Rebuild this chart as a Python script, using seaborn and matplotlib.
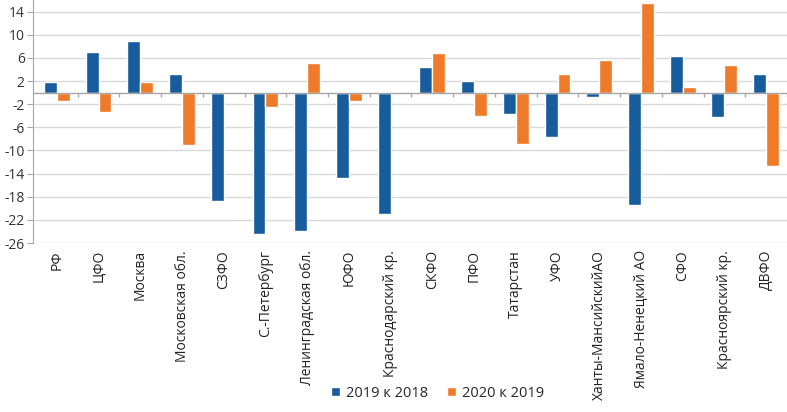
import matplotlib
matplotlib.use("Agg")
import matplotlib.pyplot as plt
import seaborn as sns
import pandas as pd
import numpy as np

categories = ["РФ", "ЦФО", "Москва", "Московская обл.", "СЗФО", "С.-Петербург",
              "Ленинградская обл.", "ЮФО", "Краснодарский кр.", "СКФО", "ПФО",
              "Татарстан", "УФО", "Ханты-МансийскийАО", "Ямало-Ненецкий АО",
              "СФО", "Красноярский кр.", "ДВФО"]
series_names = ["2019 к 2018", "2020 к 2019"]
v2019 = [1.8, 7.0, 9.0, 3.3, -18.8, -24.4, -23.9, -14.7, -20.9, 4.4, 2.0,
         -3.7, -7.6, -0.8, -19.5, 6.3, -4.3, 3.3]
v2020 = [-1.4, -3.4, 1.8, -9.1, -0.3, -2.5, 5.2, -1.4, -0.3, 6.8, -4.1,
         -8.9, 3.3, 5.6, 15.4, 0.9, 4.8, -12.6]
yticks = list(range(-26, 15, 4))

colors = ["#175C9C", "#EE7A2A"]

df = pd.DataFrame({
    "cat": categories * 2,
    "series": [series_names[0]] * len(categories) + [series_names[1]] * len(categories),
    "value": v2019 + v2020,
})

sns.set_style("white")
plt.rcParams["font.family"] = ["Open Sans", "DejaVu Sans"]

fig = plt.figure(figsize=(7.87, 4.12), dpi=100)
ax = fig.add_axes([0.042, 0.41, 0.958, 0.59])

sns.barplot(data=df, x="cat", y="value", hue="series", palette=colors,
            width=0.62, ax=ax, saturation=1, legend=True, zorder=3)

ax.set_ylim(-26, 16)
ax.set_yticks(yticks)
ax.set_yticklabels([str(t) for t in yticks], fontsize=10, color="#333333")
ax.yaxis.grid(True, color="#D9D9D9", linewidth=1, zorder=0)
ax.set_axisbelow(True)
ax.set_xlim(-0.57, len(categories) - 0.5)
ax.set_xlabel("")
ax.set_ylabel("")
for s in ["top", "right", "bottom"]:
    ax.spines[s].set_visible(False)
ax.spines["left"].set_color("#A6A6A6")
ax.tick_params(axis="y", length=4, color="#A6A6A6", left=True, pad=2)
ax.tick_params(axis="x", length=0, pad=5)
ax.set_xticks(range(len(categories)))
ax.set_xticklabels(categories, rotation=90, fontsize=10, color="#222222")

ax.axhline(0, color="#A6A6A6", linewidth=1, zorder=4)
bounds = np.arange(len(categories)) + 0.5
ax.vlines(bounds, -0.7, 0, color="#A6A6A6", linewidth=1, zorder=4)

handles, labels = ax.get_legend_handles_labels()
ax.legend(handles, labels, loc="lower center", ncol=2, frameon=False, fontsize=10.5,
          handlelength=0.6, handleheight=0.6, columnspacing=1.3, handletextpad=0.4)
leg = ax.get_legend()
leg.set_bbox_to_anchor((0.556, -0.005), transform=fig.transFigure)

fig.savefig("out.png", dpi=100)
